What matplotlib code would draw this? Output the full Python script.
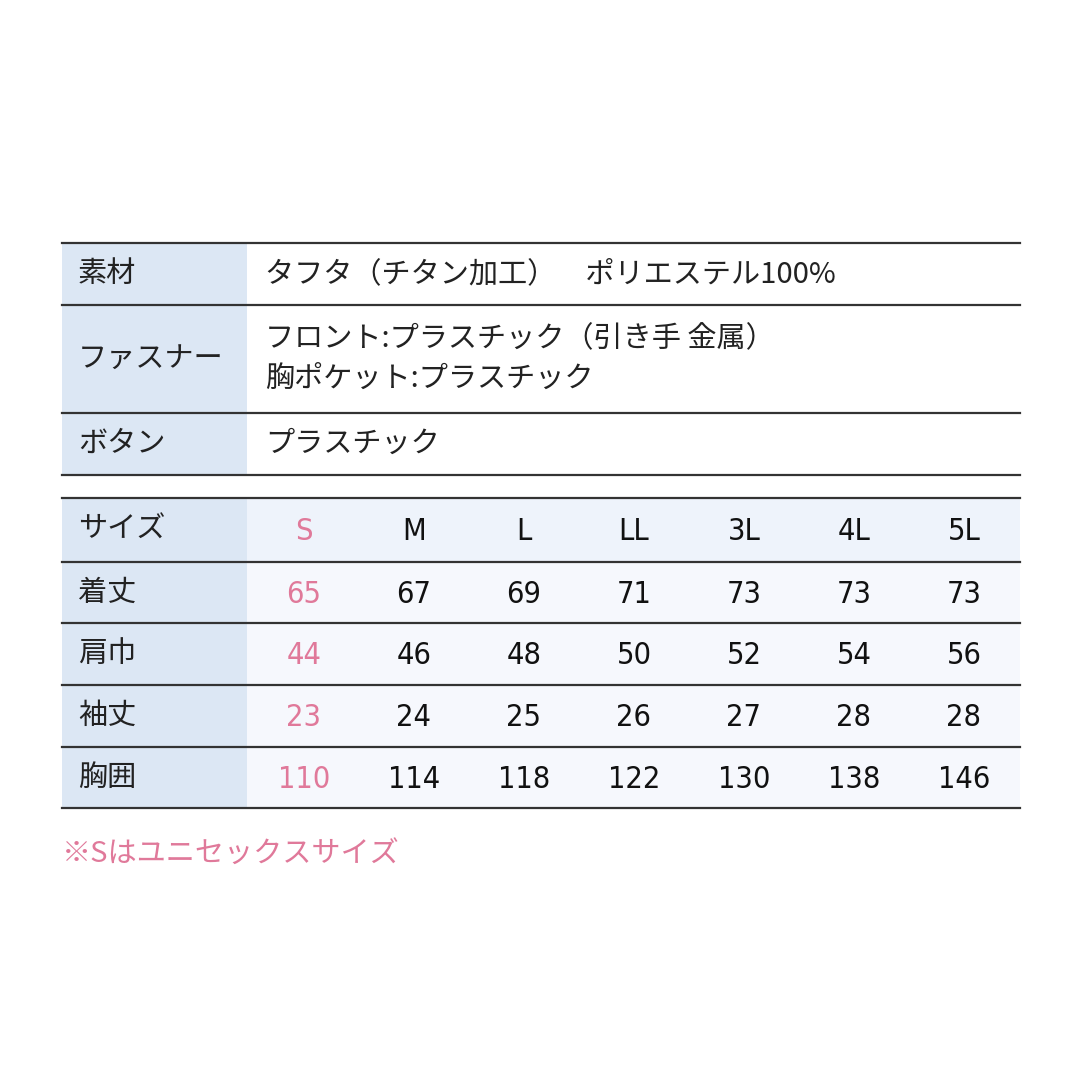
import matplotlib
matplotlib.use("Agg")
import matplotlib.pyplot as plt

plt.rcParams['font.family'] = ['Noto Sans CJK JP', 'DejaVu Sans']

spec_labels = ["素材", "ファスナー", "ボタン"]
spec_values = ["タフタ（チタン加工）　ポリエステル100%",
               "フロント:プラスチック（引き手 金属）\n胸ポケット:プラスチック",
               "プラスチック"]
sizes = ["S", "M", "L", "LL", "3L", "4L", "5L"]
measure_labels = ["着丈", "肩巾", "袖丈", "胸囲"]
measures = [
    [65, 67, 69, 71, 73, 73, 73],
    [44, 46, 48, 50, 52, 54, 56],
    [23, 24, 25, 26, 27, 28, 28],
    [110, 114, 118, 122, 130, 138, 146],
]
note = "※Sはユニセックスサイズ"

pink = "#e0799a"
head_bg = "#dce7f4"
tint_bg = "#eef3fb"
line_c = "#333333"

fig = plt.figure(figsize=(10.8, 10.8), dpi=100)
ax = fig.add_axes([0, 0, 1, 1])
ax.set_xlim(0, 1080)
ax.set_ylim(1080, 0)
ax.axis('off')

x0, xs, x1 = 62, 247, 1020
lab_kw = dict(fontsize=21, va='center', color='#222222')
num_kw = dict(fontsize=22, ha='center', va='center', family='DejaVu Sans',
              fontstretch='condensed')

# top spec table
spec_y = [243, 305, 413, 475]
for i, lab in enumerate(spec_labels):
    ya, yb = spec_y[i], spec_y[i + 1]
    ax.add_patch(plt.Rectangle((x0, ya), xs - x0, yb - ya, color=head_bg, lw=0))
    ax.text(78, (ya + yb) / 2, lab, **lab_kw)
    ax.text(265, (ya + yb) / 2, spec_values[i], linespacing=1.4, **lab_kw)
for y in spec_y:
    ax.plot([x0, x1], [y, y], color=line_c, lw=1.6)

# size table
size_y = [498, 562, 623, 685, 747, 808]
ax.add_patch(plt.Rectangle((x0, 498), x1 - x0, 64, color=tint_bg, lw=0))
ax.add_patch(plt.Rectangle((xs, 562), x1 - xs, 246, color='#f6f8fd', lw=0))
ax.add_patch(plt.Rectangle((x0, 498), xs - x0, 310, color=head_bg, lw=0))
col_x = [304 + 110 * j for j in range(len(sizes))]
yc = (size_y[0] + size_y[1]) / 2
ax.text(78, yc, "サイズ", **lab_kw)
for j, s in enumerate(sizes):
    ax.text(col_x[j], yc + 2, s, color=pink if j == 0 else '#111111', **num_kw)
for i, lab in enumerate(measure_labels):
    yc = (size_y[i + 1] + size_y[i + 2]) / 2
    ax.text(78, yc, lab, **lab_kw)
    for j, v in enumerate(measures[i]):
        ax.text(col_x[j], yc + 2, str(v), color=pink if j == 0 else '#111111', **num_kw)
for y in size_y:
    ax.plot([x0, x1], [y, y], color=line_c, lw=1.6)

ax.text(62, 855, note, fontsize=21, va='center', color=pink)

fig.savefig("out.png", dpi=100, facecolor='white')
